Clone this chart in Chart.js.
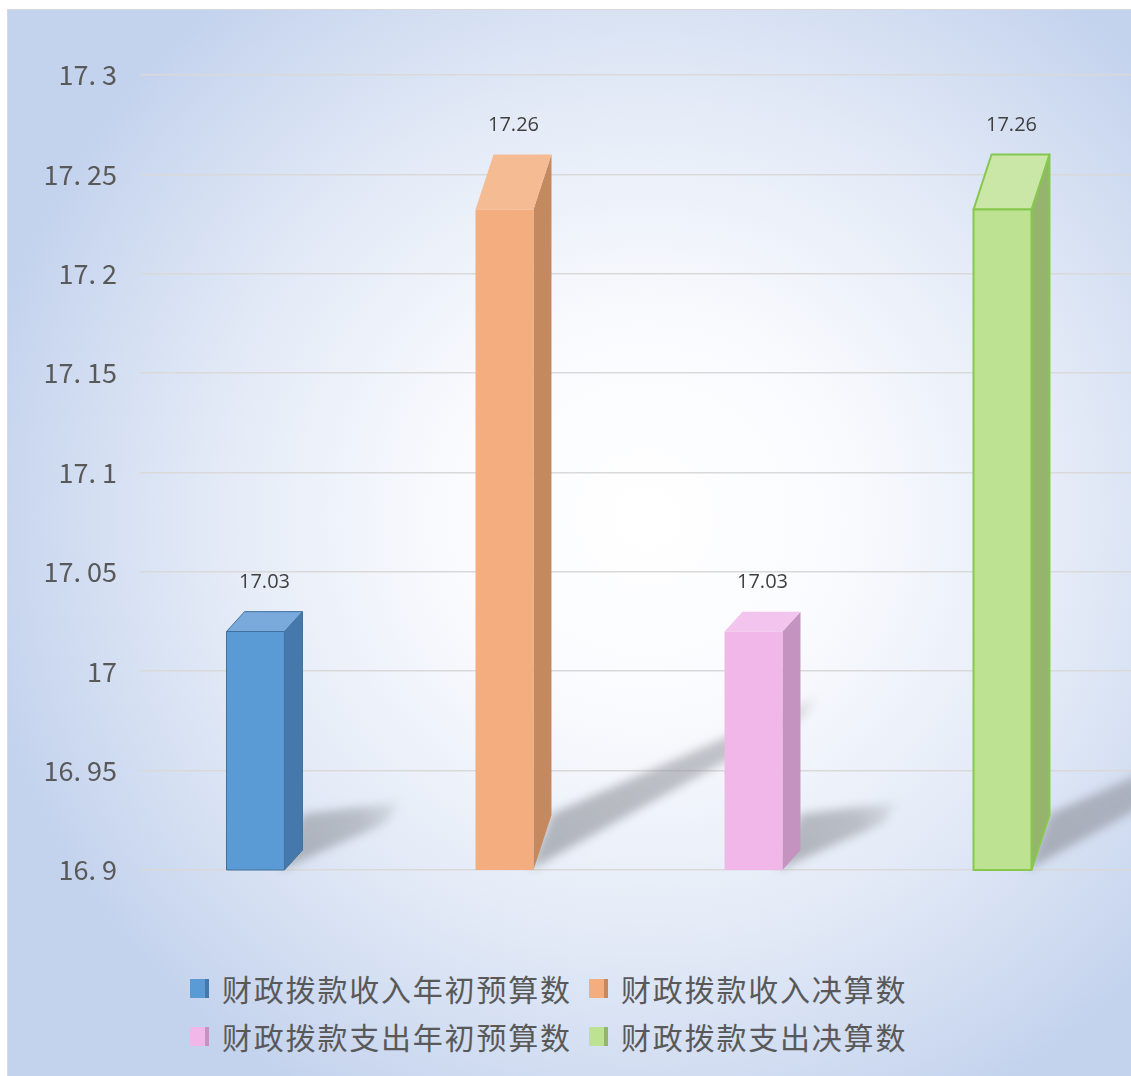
<!DOCTYPE html>
<html>
<head>
<meta charset="utf-8">
<script src="https://cdn.jsdelivr.net/npm/chart.js@4.4.1/dist/chart.umd.min.js"></script>
<style>
  html, body { margin: 0; padding: 0; background: #fff; overflow: hidden; width: 1131px; height: 1076px; }
  #frame {
    position: absolute; left: 7px; top: 9px; width: 1140px; height: 1080px;
    border: 1px solid #d9d9d9;
    background: radial-gradient(ellipse 60% 62% at 56% 47%, #ffffff 0%, #fafbfe 28%, #e4ebf7 62%, #c3d2ed 100%);
  }
  #wrap { position: absolute; left: 0; top: 0; width: 1136px; height: 920px; }
  #legend {
    position: absolute; left: 190px; top: 964px;
    font-family: "Noto Sans CJK SC", sans-serif; font-size: 30px; letter-spacing: 1.8px; color: #595959;
  }
  .row { display: flex; height: 48px; align-items: center; }
  .item { display: flex; align-items: center; white-space: nowrap; }
  .item:first-child { width: 399px; }
  .icon { display: inline-block; width: 15px; height: 19px; margin-right: 13px; border-right: 4px solid; }
</style>
</head>
<body>
<div id="frame"></div>
<div id="wrap"><canvas id="myChart"></canvas></div>
<div id="legend"></div>
<script>
const categories = [""];
const seriesNames = ["财政拨款收入年初预算数", "财政拨款收入决算数", "财政拨款支出年初预算数", "财政拨款支出决算数"];
const seriesValues = [17.03, 17.26, 17.03, 17.26];
const yTicks = [16.9, 16.95, 17, 17.05, 17.1, 17.15, 17.2, 17.25, 17.3];

const frontColors = ["#5b9bd5", "#f3ad7e", "#f0b7e8", "#bde291"];
const sideColors = ["#4679ab", "#c5895f", "#c493bf", "#96b46d"];
const topColors = ["#7aaadb", "#f5bb92", "#f3c5ee", "#cae7a8"];
const edgeColors = ["#41719c", "#f0a878", "#ecb0e4", "#86c84e"];
const edgeWidths = [1, 0, 0, 2];

const DX = 18;

function barBox(chart, el) {
  const base = chart.scales.y.getPixelForValue(yTicks[0]);
  const h = base - el.y;
  const dy = h * 0.077;
  const x0 = el.x - el.width / 2;
  const x1 = x0 + el.width - DX;
  return { x0, x1, y: el.y, yf: el.y + dy, base, dy, h };
}

const bar3d = {
  id: "bar3d",
  beforeDatasetsDraw(chart) {
    const ctx = chart.ctx;
    ctx.save();
    ctx.filter = "blur(5px)";
    chart.data.datasets.forEach((ds, i) => {
      chart.getDatasetMeta(i).data.forEach((el) => {
        const b = barBox(chart, el);
        const tx = b.x1 + DX + b.h * 0.37;
        const ty = b.base - b.h * 0.23;
        const g = ctx.createLinearGradient(b.x1, b.base, tx, ty);
        g.addColorStop(0, "rgba(135,138,145,0.6)");
        g.addColorStop(0.7, "rgba(140,143,150,0.5)");
        g.addColorStop(1, "rgba(150,153,160,0.2)");
        ctx.fillStyle = g;
        ctx.beginPath();
        ctx.moveTo(b.x1 - 4, b.base);
        ctx.lineTo(b.x1 + DX, b.base - 56);
        ctx.lineTo(tx, ty - 8);
        ctx.lineTo(tx - 12, ty + 12);
        ctx.closePath();
        ctx.fill();
      });
    });
    ctx.restore();
  },
  afterDatasetsDraw(chart) {
    const ctx = chart.ctx;
    chart.data.datasets.forEach((ds, i) => {
      chart.getDatasetMeta(i).data.forEach((el, j) => {
        const b = barBox(chart, el);
        ctx.save();
        ctx.lineJoin = "round";
        // side
        ctx.beginPath();
        ctx.moveTo(b.x1, b.yf);
        ctx.lineTo(b.x1 + DX, b.y);
        ctx.lineTo(b.x1 + DX, b.base - b.dy);
        ctx.lineTo(b.x1, b.base);
        ctx.closePath();
        ctx.fillStyle = sideColors[i];
        ctx.fill();
        if (edgeWidths[i]) { ctx.strokeStyle = edgeColors[i]; ctx.lineWidth = edgeWidths[i]; ctx.stroke(); }
        // top
        ctx.beginPath();
        ctx.moveTo(b.x0, b.yf);
        ctx.lineTo(b.x0 + DX, b.y);
        ctx.lineTo(b.x1 + DX, b.y);
        ctx.lineTo(b.x1, b.yf);
        ctx.closePath();
        ctx.fillStyle = topColors[i];
        ctx.fill();
        if (edgeWidths[i]) { ctx.strokeStyle = edgeColors[i]; ctx.lineWidth = edgeWidths[i]; ctx.stroke(); }
        // front
        ctx.beginPath();
        ctx.rect(b.x0, b.yf, b.x1 - b.x0, b.base - b.yf);
        ctx.fillStyle = frontColors[i];
        ctx.fill();
        if (edgeWidths[i]) { ctx.strokeStyle = edgeColors[i]; ctx.lineWidth = edgeWidths[i]; ctx.stroke(); }
        // value label
        ctx.fillStyle = "#404040";
        ctx.font = "20px 'Open Sans', sans-serif";
        ctx.textAlign = "center";
        ctx.textBaseline = "middle";
        ctx.fillText(ds.data[j].toFixed(2), el.x, b.y - 29);
        ctx.restore();
      });
    });
  }
};

const ctx = document.getElementById("myChart");
const chart = new Chart(ctx, {
  type: "bar",
  data: {
    labels: categories,
    datasets: seriesNames.map((name, i) => ({
      label: name,
      data: [seriesValues[i]],
      backgroundColor: "rgba(0,0,0,0)",
      borderWidth: 0,
      barPercentage: 0.305,
      categoryPercentage: 1,
    })),
  },
  options: {
    responsive: true,
    maintainAspectRatio: false,
    animation: false,
    layout: { padding: { top: 75, bottom: 50, left: 0, right: 0 } },
    plugins: { legend: { display: false }, tooltip: { enabled: false } },
    scales: {
      x: { display: false },
      y: {
        min: yTicks[0],
        max: yTicks[yTicks.length - 1],
        afterBuildTicks: (s) => { s.ticks = yTicks.map((v) => ({ value: v })); },
        afterFit: (s) => { s.width = 140; },
        border: { display: false },
        grid: { color: "#d9d9d9", lineWidth: 1.5, drawTicks: false },
        ticks: {
          padding: 23,
          color: "#595959",
          font: { family: "'Noto Sans CJK SC', sans-serif", size: 27 },
          callback: (v) => String(+v.toFixed(2)).replace(".", ". "),
        },
      },
    },
  },
  plugins: [bar3d],
});

// legend in two rows of two
const legend = document.getElementById("legend");
for (let r = 0; r < 2; r++) {
  const row = document.createElement("div");
  row.className = "row";
  for (let c = 0; c < 2; c++) {
    const i = r * 2 + c;
    const item = document.createElement("div");
    item.className = "item";
    const icon = document.createElement("span");
    icon.className = "icon";
    icon.style.background = frontColors[i];
    icon.style.borderRightColor = sideColors[i];
    item.append(icon, document.createTextNode(chart.data.datasets[i].label));
    row.append(item);
  }
  legend.append(row);
}
</script>
</body>
</html>
